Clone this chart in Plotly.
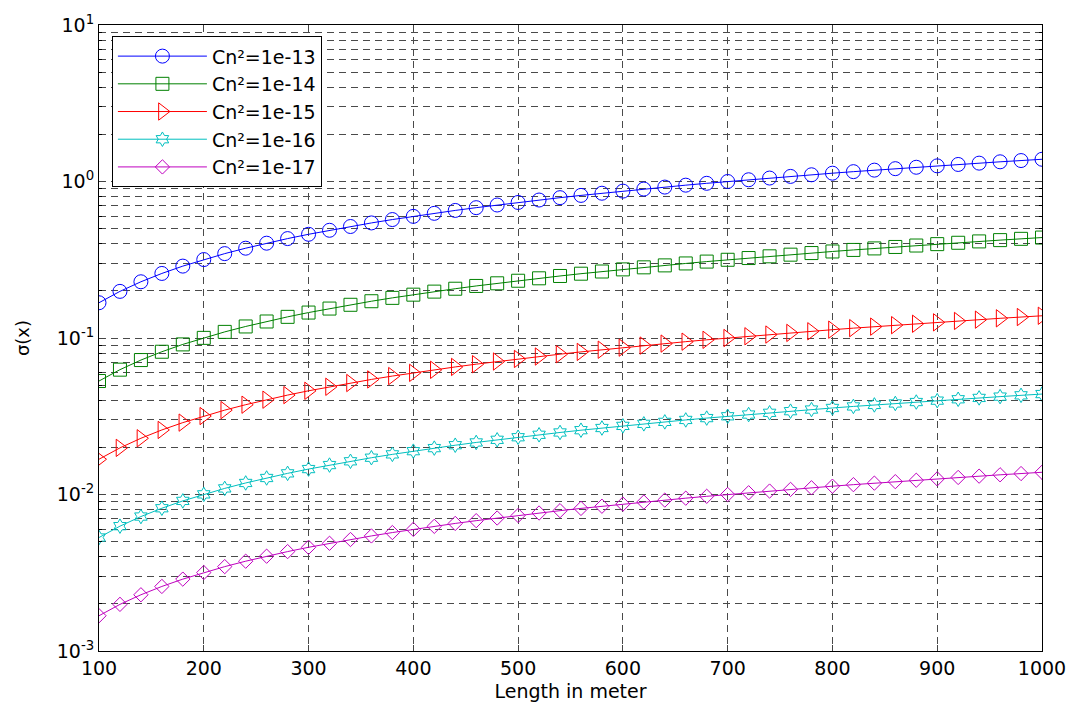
import plotly.graph_objects as go

length_m = [100, 120, 140, 160, 180, 200, 220, 240, 260, 280, 300, 320, 340, 360, 380,
            400, 420, 440, 460, 480, 500, 520, 540, 560, 580, 600, 620, 640, 660, 680,
            700, 720, 740, 760, 780, 800, 820, 840, 860, 880, 900, 920, 940, 960, 980, 1000]

sigma_1e13 = [0.168, 0.1986, 0.2287, 0.2585, 0.288, 0.3171, 0.3461, 0.3748, 0.4034, 0.4317,
              0.4599, 0.4879, 0.5158, 0.5436, 0.5712, 0.5987, 0.6261, 0.6533, 0.6805, 0.7076,
              0.7346, 0.7615, 0.7883, 0.815, 0.8416, 0.8682, 0.8947, 0.9211, 0.9475, 0.9737,
              1.0, 1.026, 1.052, 1.078, 1.104, 1.13, 1.156, 1.182, 1.208, 1.233,
              1.259, 1.285, 1.31, 1.336, 1.361, 1.387]
sigma_1e14 = [0.0531, 0.06276, 0.07229, 0.0817, 0.09101, 0.1002, 0.1094, 0.1185, 0.1275, 0.1365,
              0.1454, 0.1542, 0.163, 0.1718, 0.1805, 0.1892, 0.1979, 0.2065, 0.2151, 0.2236,
              0.2322, 0.2407, 0.2491, 0.2576, 0.266, 0.2744, 0.2828, 0.2911, 0.2995, 0.3078,
              0.3161, 0.3243, 0.3326, 0.3408, 0.349, 0.3572, 0.3654, 0.3736, 0.3817, 0.3898,
              0.3979, 0.406, 0.4141, 0.4222, 0.4302, 0.4383]
sigma_1e15 = [0.0168, 0.01986, 0.02287, 0.02585, 0.0288, 0.03171, 0.03461, 0.03748, 0.04034, 0.04317,
              0.04599, 0.04879, 0.05158, 0.05436, 0.05712, 0.05987, 0.06261, 0.06533, 0.06805, 0.07076,
              0.07346, 0.07615, 0.07883, 0.0815, 0.08416, 0.08682, 0.08947, 0.09211, 0.09475, 0.09737,
              0.1, 0.1026, 0.1052, 0.1078, 0.1104, 0.113, 0.1156, 0.1182, 0.1208, 0.1233,
              0.1259, 0.1285, 0.131, 0.1336, 0.1361, 0.1387]
sigma_1e16 = [0.00531, 0.006276, 0.007229, 0.00817, 0.009101, 0.01002, 0.01094, 0.01185, 0.01275, 0.01365,
              0.01454, 0.01542, 0.0163, 0.01718, 0.01805, 0.01892, 0.01979, 0.02065, 0.02151, 0.02236,
              0.02322, 0.02407, 0.02491, 0.02576, 0.0266, 0.02744, 0.02828, 0.02911, 0.02995, 0.03078,
              0.03161, 0.03243, 0.03326, 0.03408, 0.0349, 0.03572, 0.03654, 0.03736, 0.03817, 0.03898,
              0.03979, 0.0406, 0.04141, 0.04222, 0.04302, 0.04383]
sigma_1e17 = [0.00168, 0.001986, 0.002287, 0.002585, 0.00288, 0.003171, 0.003461, 0.003748, 0.004034, 0.004317,
              0.004599, 0.004879, 0.005158, 0.005436, 0.005712, 0.005987, 0.006261, 0.006533, 0.006805, 0.007076,
              0.007346, 0.007615, 0.007883, 0.00815, 0.008416, 0.008682, 0.008947, 0.009211, 0.009475, 0.009737,
              0.01, 0.01026, 0.01052, 0.01078, 0.01104, 0.0113, 0.01156, 0.01182, 0.01208, 0.01233,
              0.01259, 0.01285, 0.0131, 0.01336, 0.01361, 0.01387]

series_names = ["Cn²=1e-13", "Cn²=1e-14", "Cn²=1e-15", "Cn²=1e-16", "Cn²=1e-17"]
series_values = [sigma_1e13, sigma_1e14, sigma_1e15, sigma_1e16, sigma_1e17]
colors = ["#0000FF", "#008000", "#FF0000", "#00BFBF", "#BF00BF"]
symbols = ["circle-open", "square-open", "triangle-right-open", "hexagram-open", "diamond-open"]
sizes = [14, 13, 15, 11, 11]

x_ticks = [100, 200, 300, 400, 500, 600, 700, 800, 900, 1000]
y_ticks = [1e-3, 1e-2, 1e-1, 1e0, 1e1]
y_ticktext = ["10<sup>-3</sup>", "10<sup>-2</sup>", "10<sup>-1</sup>", "10<sup>0</sup>", "10<sup>1</sup>"]
y_minor = [m * d for d in [1e-3, 1e-2, 1e-1, 1e0] for m in range(2, 10)]

fig = go.Figure()
for name, vals, c, s, sz in zip(series_names, series_values, colors, symbols, sizes):
    fig.add_trace(go.Scatter(
        x=length_m, y=vals, name=name, mode="lines+markers",
        line=dict(color=c, width=1),
        marker=dict(symbol=s, size=sz, color=c, line=dict(color=c, width=1)),
    ))

grid_color = "#4a4a4a"
grid_dash = "7px,5px"
font_family = "DejaVu Sans, Arial, sans-serif"

fig.update_layout(
    width=1078, height=711,
    margin=dict(l=99, r=33, t=23, b=60),
    paper_bgcolor="white", plot_bgcolor="white",
    font=dict(family=font_family, size=19, color="black"),
    showlegend=True,
    legend=dict(
        x=0.0137, y=0.982, xanchor="left", yanchor="top",
        bgcolor="white", bordercolor="black", borderwidth=1,
        font=dict(size=19, family=font_family),
        itemwidth=89, tracegroupgap=0,
    ),
    xaxis=dict(
        range=[100, 1000], tickvals=x_ticks, ticks="inside", ticklen=6,
        showline=True, linecolor="black", linewidth=1, mirror="allticks",
        showgrid=True, gridcolor=grid_color, griddash=grid_dash, gridwidth=1,
        zeroline=False, tickfont=dict(size=19),
        title=dict(text="Length in meter", font=dict(size=19), standoff=6),
    ),
    yaxis=dict(
        type="log", range=[-3, 1], tickvals=y_ticks, ticktext=y_ticktext,
        ticks="inside", ticklen=6, tickfont=dict(size=19),
        showline=True, linecolor="black", linewidth=1, mirror="allticks",
        showgrid=True, gridcolor=grid_color, griddash=grid_dash, gridwidth=1,
        zeroline=False,
        minor=dict(tickvals=y_minor, ticks="inside", ticklen=3, tickcolor="black",
                   showgrid=True, gridcolor=grid_color, griddash=grid_dash, gridwidth=1),
        title=dict(text="σ(x)", font=dict(size=18), standoff=22),
    ),
)

fig.write_html("out.html")
